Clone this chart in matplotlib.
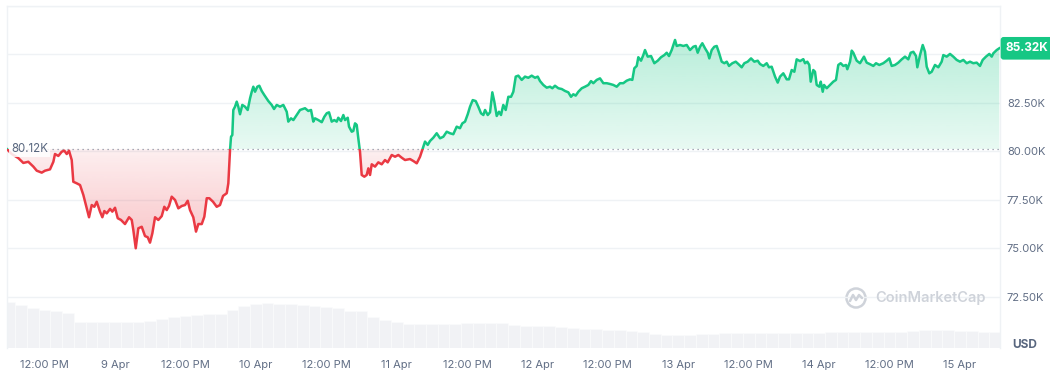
import numpy as np
import matplotlib
matplotlib.use("Agg")
import matplotlib.pyplot as plt
import matplotlib.colors as mcolors
from matplotlib.patches import Rectangle, Ellipse
from matplotlib.path import Path
from matplotlib.lines import Line2D

plt.rcParams['font.family'] = ['Inter', 'DejaVu Sans']

# ---------------- data (hours since 8 Apr 00:00, price in K USD) ----------------
hours = [
    5.59, 6.40, 7.52, 8.37, 9.22, 10.08, 10.66, 11.51, 12.07, 12.92,
    13.49, 13.77, 14.34, 14.92, 15.36, 15.77, 16.16, 16.62, 16.89, 17.47,
    18.04, 18.60, 19.18, 19.57, 20.03, 20.47, 20.88, 21.44, 21.84, 22.18,
    22.59, 23.15, 23.54, 24.00, 24.46, 25.02, 25.70, 26.39, 26.85, 27.12,
    27.53, 27.97, 28.55, 29.11, 29.57, 29.96, 30.36, 30.82, 31.38, 31.96,
    32.40, 32.81, 33.20, 33.66, 34.23, 34.79, 35.37, 35.93, 36.39, 36.78,
    37.34, 37.80, 38.20, 38.78, 39.22, 39.63, 40.07, 40.70, 41.33, 41.89,
    42.41, 43.04, 43.31, 43.60, 43.77, 43.99, 44.16, 44.45, 44.74, 45.01,
    45.30, 45.69, 46.15, 46.61, 47.01, 47.30, 47.57, 47.86, 48.25, 48.59,
    49.00, 49.44, 50.13, 50.70, 51.10, 51.56, 52.12, 52.68, 53.26, 53.53,
    53.99, 54.39, 54.97, 55.53, 56.38, 56.94, 57.40, 57.79, 58.08, 58.65,
    59.23, 59.67, 60.08, 60.47, 60.93, 61.37, 61.78, 62.05, 62.51, 62.91,
    63.20, 63.66, 63.88, 64.34, 64.61, 64.90, 65.19, 65.46, 65.75, 66.04,
    66.49, 66.89, 67.17, 67.46, 67.75, 68.31, 68.87, 69.45, 70.01, 70.47,
    71.16, 71.72, 72.28, 72.86, 73.42, 74.27, 74.84, 75.42, 75.98, 76.37,
    76.83, 77.29, 77.68, 78.24, 78.82, 79.39, 79.95, 80.53, 81.09, 81.65,
    82.23, 82.79, 83.19, 83.65, 84.11, 84.50, 84.96, 85.47, 85.91, 86.37,
    86.77, 87.06, 87.52, 87.91, 88.30, 88.64, 89.05, 89.44, 89.78, 90.17,
    90.58, 91.03, 91.49, 91.88, 92.29, 92.73, 93.31, 93.87, 94.43, 95.01,
    95.58, 96.04, 96.43, 96.99, 97.57, 98.13, 98.53, 98.98, 99.55, 100.13,
    100.69, 101.25, 101.71, 102.10, 102.51, 102.96, 103.54, 104.10, 104.66, 105.12,
    105.51, 106.09, 106.65, 107.22, 107.80, 108.36, 108.92, 109.50, 110.06, 110.62,
    111.20, 111.77, 112.16, 112.50, 112.91, 113.18, 113.64, 114.03, 114.32, 114.78,
    115.35, 115.91, 116.49, 117.05, 117.61, 118.02, 118.41, 118.87, 119.44, 119.72,
    120.29, 120.85, 121.43, 121.99, 122.56, 122.96, 123.30, 123.70, 124.09, 124.55,
    125.01, 125.28, 125.69, 126.13, 126.54, 126.93, 127.39, 127.84, 128.25, 128.64,
    129.20, 129.78, 130.22, 130.80, 131.25, 131.82, 132.39, 132.95, 133.53, 133.92,
    134.48, 135.06, 135.45, 135.91, 136.48, 136.94, 137.33, 137.89, 138.47, 138.86,
    139.32, 139.77, 140.17, 140.74, 141.30, 141.59, 141.98, 142.32, 142.56, 143.00,
    143.29, 143.58, 144.03, 144.27, 144.61, 144.83, 145.29, 145.85, 146.41, 146.87,
    147.26, 147.67, 148.12, 148.58, 148.80, 149.26, 149.55, 149.82, 150.40, 150.96,
    151.64, 152.10, 152.67, 153.23, 153.69, 154.25, 154.93, 155.51, 155.96, 156.36,
    156.93, 157.49, 158.07, 158.63, 159.19, 159.60, 160.05, 160.51, 160.73, 161.19,
    161.65, 162.04, 162.33, 162.77, 163.18, 163.74, 164.31, 164.88, 165.16, 165.74,
    166.30, 166.86, 167.44, 168.00, 168.57, 169.15, 169.71, 170.27, 170.85, 171.41,
    171.87, 172.43, 173.00, 173.41, 173.68, 174.26, 174.70,
]
prices = [
    80.12, 79.87, 79.66, 79.41, 79.47, 79.22, 79.01, 78.91, 79.01, 79.08,
    79.47, 79.87, 79.77, 79.99, 80.04, 79.87, 80.04, 79.56, 78.44, 78.36,
    78.27, 77.76, 77.07, 76.61, 77.24, 77.15, 77.41, 76.90, 76.61, 76.93,
    76.81, 77.04, 76.90, 77.10, 76.56, 76.47, 76.26, 76.61, 76.47, 75.95,
    75.01, 76.04, 76.12, 75.64, 75.58, 75.30, 75.78, 76.61, 76.47, 76.67,
    77.15, 76.98, 77.19, 77.67, 77.50, 77.07, 77.19, 77.24, 77.46, 76.98,
    76.61, 75.87, 76.26, 76.26, 76.64, 77.59, 77.59, 77.41, 77.15, 77.24,
    77.71, 77.85, 78.36, 80.08, 80.76, 80.85, 82.14, 82.31, 82.57, 82.31,
    81.92, 82.40, 82.31, 82.14, 82.74, 83.08, 83.34, 83.08, 83.34, 83.39,
    83.12, 82.91, 82.60, 82.40, 82.19, 82.40, 82.31, 82.40, 82.05, 81.54,
    81.71, 81.62, 81.88, 82.14, 82.23, 82.09, 82.14, 81.54, 81.71, 81.62,
    81.51, 81.79, 81.97, 82.02, 81.54, 81.62, 81.54, 81.74, 81.57, 81.88,
    81.62, 81.74, 81.28, 81.02, 81.06, 81.45, 81.37, 80.68, 79.99, 78.79,
    78.70, 78.79, 79.13, 78.79, 79.34, 79.22, 79.44, 79.34, 79.56, 79.44,
    79.82, 79.73, 79.82, 79.68, 79.56, 79.61, 79.51, 79.39, 79.73, 80.08,
    80.51, 80.34, 80.54, 80.71, 80.94, 80.68, 80.76, 81.02, 80.94, 80.89,
    81.28, 81.20, 81.45, 81.54, 81.92, 82.31, 82.65, 82.60, 82.31, 81.97,
    81.88, 82.14, 81.88, 82.02, 83.05, 82.57, 81.83, 82.05, 81.88, 82.40,
    82.14, 82.82, 82.82, 83.08, 83.86, 83.91, 83.69, 83.86, 83.80, 83.91,
    83.80, 83.86, 83.63, 83.43, 83.29, 83.34, 83.26, 83.39, 83.26, 83.22,
    83.12, 83.05, 82.82, 82.95, 82.88, 83.08, 83.26, 83.34, 83.43, 83.63,
    83.52, 83.69, 83.77, 83.52, 83.52, 83.48, 83.43, 83.34, 83.52, 83.52,
    83.65, 83.72, 83.69, 84.29, 84.41, 84.86, 84.68, 84.97, 85.23, 84.89,
    84.92, 84.55, 84.68, 84.86, 84.97, 85.09, 84.92, 85.23, 85.75, 85.44,
    85.49, 85.44, 85.49, 85.23, 85.40, 85.44, 85.09, 85.40, 85.58, 85.32,
    85.09, 84.80, 85.23, 85.40, 85.44, 85.09, 84.63, 84.55, 84.63, 84.41,
    84.55, 84.63, 84.51, 84.34, 84.55, 84.63, 84.80, 84.63, 84.68, 84.51,
    84.41, 84.55, 84.34, 84.37, 83.86, 83.55, 83.86, 84.03, 83.72, 83.72,
    84.20, 84.11, 84.75, 84.66, 84.76, 84.55, 84.63, 84.46, 83.60, 84.20,
    84.11, 83.43, 83.34, 83.60, 83.08, 83.43, 83.26, 83.43, 83.60, 83.69,
    84.46, 84.55, 84.41, 84.46, 84.24, 84.63, 85.20, 85.09, 84.68, 84.55,
    84.89, 84.58, 84.50, 84.41, 84.55, 84.46, 84.55, 84.68, 84.80, 84.41,
    84.46, 84.58, 84.75, 84.89, 84.75, 85.09, 85.14, 84.92, 84.34, 84.97,
    85.49, 85.14, 84.37, 84.03, 84.11, 84.46, 84.34, 84.63, 84.97, 84.89,
    85.03, 84.89, 84.72, 84.63, 84.72, 84.55, 84.63, 84.55, 84.58, 84.41,
    84.72, 84.89, 85.03, 84.89, 85.06, 85.23, 85.32,
]
assert len(hours) == len(prices)

# volume profile (2-hour bars, arbitrary units)
vol_hours = list(range(6, 176, 2))
volumes = [
    46.3, 43.0, 40.0, 38.5, 37.0, 35.3, 26.5, 25.9, 25.7, 25.7,
    25.7, 26.3, 27.3, 29.0, 30.8, 32.5, 33.1, 33.6, 33.9, 38.5,
    42.2, 44.5, 45.0, 44.5, 43.6, 42.8, 42.0, 41.0, 40.3, 37.5,
    37.0, 31.3, 28.0, 25.8, 24.5, 24.0, 23.8, 23.7, 24.3, 24.8,
    25.0, 24.8, 24.6, 23.0, 22.0, 22.0, 22.0, 21.0, 20.5, 19.5,
    19.0, 18.5, 17.7, 16.7, 16.0, 14.5, 13.4, 13.2, 13.0, 13.7,
    14.5, 14.7, 14.7, 14.7, 14.7, 14.7, 14.7, 14.7, 15.0, 15.3,
    15.8, 16.0, 16.2, 16.3, 16.3, 16.3, 16.3, 17.5, 18.5, 18.3,
    18.0, 17.5, 17.0, 16.5, 16.0,
]
assert len(vol_hours) == len(volumes)

base_price = 80.12
y_ticks = [72.5, 75.0, 77.5, 80.0, 82.5, 85.0]
y_tick_labels = ["72.50K", "75.00K", "77.50K", "80.00K", "82.50K", ""]
x_tick_hours = [12, 24, 36, 48, 60, 72, 84, 96, 108, 120, 132, 144, 156, 168]
x_tick_labels = ["12:00 PM", "9 Apr", "12:00 PM", "10 Apr", "12:00 PM", "11 Apr",
                 "12:00 PM", "12 Apr", "12:00 PM", "13 Apr", "12:00 PM", "14 Apr",
                 "12:00 PM", "15 Apr"]

GREEN = "#16c784"
RED = "#ea3943"
GRID = "#eff2f5"
TXT = "#616e85"

x = np.array(hours)
y = np.array(prices)
XMIN, XMAX = 5.59, 174.82
YMIN, YMAX = 69.87, 87.5

fig = plt.figure(figsize=(10.5, 3.72), dpi=100)
rect = [7 / 1050, 24 / 372, 993 / 1050, 342 / 372]

# volume axes (behind)
axv = fig.add_axes(rect, zorder=0)
axv.bar(vol_hours, volumes, width=2.0, color="#f1f2f5", edgecolor="#fbfbfc",
        linewidth=0.5)
axv.set_xlim(XMIN, XMAX)
axv.set_ylim(0, 342)
axv.axis("off")

ax = fig.add_axes(rect, zorder=1)
ax.patch.set_visible(False)


def gradient_fill(above, color, a_near, a_far):
    rgb = mcolors.to_rgb(color)
    if above:
        where = y >= base_price
        lo, hi = base_price, y.max()
        alpha = np.linspace(a_far, a_near, 256)  # top row first
    else:
        where = y <= base_price
        lo, hi = y.min(), base_price
        alpha = np.linspace(a_near, a_far, 256)
    img = np.zeros((256, 1, 4))
    img[..., 0], img[..., 1], img[..., 2] = rgb
    img[..., 3] = alpha[:, None]
    im = ax.imshow(img, extent=[XMIN, XMAX, lo, hi], origin="upper",
                   aspect="auto", zorder=1, interpolation="bilinear")
    coll = ax.fill_between(x, y, base_price, where=where, interpolate=True,
                           facecolor="none", edgecolor="none")
    clip = Path.make_compound_path(*coll.get_paths())
    im.set_clip_path(clip, transform=ax.transData)


gradient_fill(True, GREEN, 0.10, 0.30)
gradient_fill(False, RED, 0.08, 0.30)

# price line, coloured by side of the opening price
lg, = ax.plot(x, y, color=GREEN, lw=1.8, zorder=4, solid_joinstyle="round")
lg.set_clip_path(Rectangle((XMIN, base_price), XMAX - XMIN, 50, transform=ax.transData))
lr, = ax.plot(x, y, color=RED, lw=1.8, zorder=4, solid_joinstyle="round")
lr.set_clip_path(Rectangle((XMIN, base_price - 50), XMAX - XMIN, 50, transform=ax.transData))

# opening price dotted line
ax.axhline(base_price, color="#8a93a3", lw=0.9, ls=(0, (1, 3)), zorder=3)

ax.set_xlim(XMIN, XMAX)
ax.set_ylim(YMIN, YMAX)

# grid
for yt in y_ticks + [87.5]:
    ax.axhline(yt, color=GRID, lw=1, zorder=0.5)

ax.set_yticks(y_ticks)
ax.set_yticklabels(y_tick_labels)
ax.yaxis.tick_right()
ax.set_xticks(x_tick_hours)
ax.set_xticklabels(x_tick_labels)
ax.tick_params(axis="both", length=0, labelsize=8, labelcolor=TXT)
ax.tick_params(axis="y", pad=5)
ax.tick_params(axis="x", pad=9)

for side in ["left", "right", "top"]:
    ax.spines[side].set_color(GRID)
    ax.spines[side].set_linewidth(1)
ax.spines["bottom"].set_visible(False)

# opening price label
ax.text(6.3, base_price, f"{base_price:.2f}K", ha="left", va="center",
        fontsize=8.3, color="#58667e", zorder=6,
        bbox=dict(boxstyle="square,pad=0.15", fc="white", ec="none", alpha=0.85))

# current price box
ax.text(1.006, prices[-1], f"{prices[-1]:.2f}K", transform=ax.get_yaxis_transform(),
        ha="left", va="center", fontsize=8.5, color="white", fontweight="bold",
        zorder=7, clip_on=False,
        bbox=dict(boxstyle="round,pad=0.45,rounding_size=0.25", fc=GREEN, ec="none"))

# currency label
fig.text(1025 / 1050, 1 - 345 / 372, "USD", ha="center", va="center",
         fontsize=8.5, fontweight="bold", color="#58667e")

# watermark
wm = "#cfd3da"
fig.text(875 / 1050, 1 - 298 / 372, "CoinMarketCap", ha="left", va="center",
         fontsize=10.5, fontweight="semibold", color=wm)
cx, cy = 856 / 1050, 1 - 298 / 372
fig.add_artist(Ellipse((cx, cy), 19 / 1050, 19 / 372, transform=fig.transFigure,
                       fill=False, ec=wm, lw=1.8))
wx = np.array([-6, -3, 0, 3, 6]) / 1050
wy = np.array([-3, 3, -2, 3, 0]) / 372
fig.add_artist(Line2D(cx + wx, cy + wy, transform=fig.transFigure, color=wm, lw=1.8,
                      solid_joinstyle="round", solid_capstyle="round"))

fig.savefig("out.png", dpi=100)
